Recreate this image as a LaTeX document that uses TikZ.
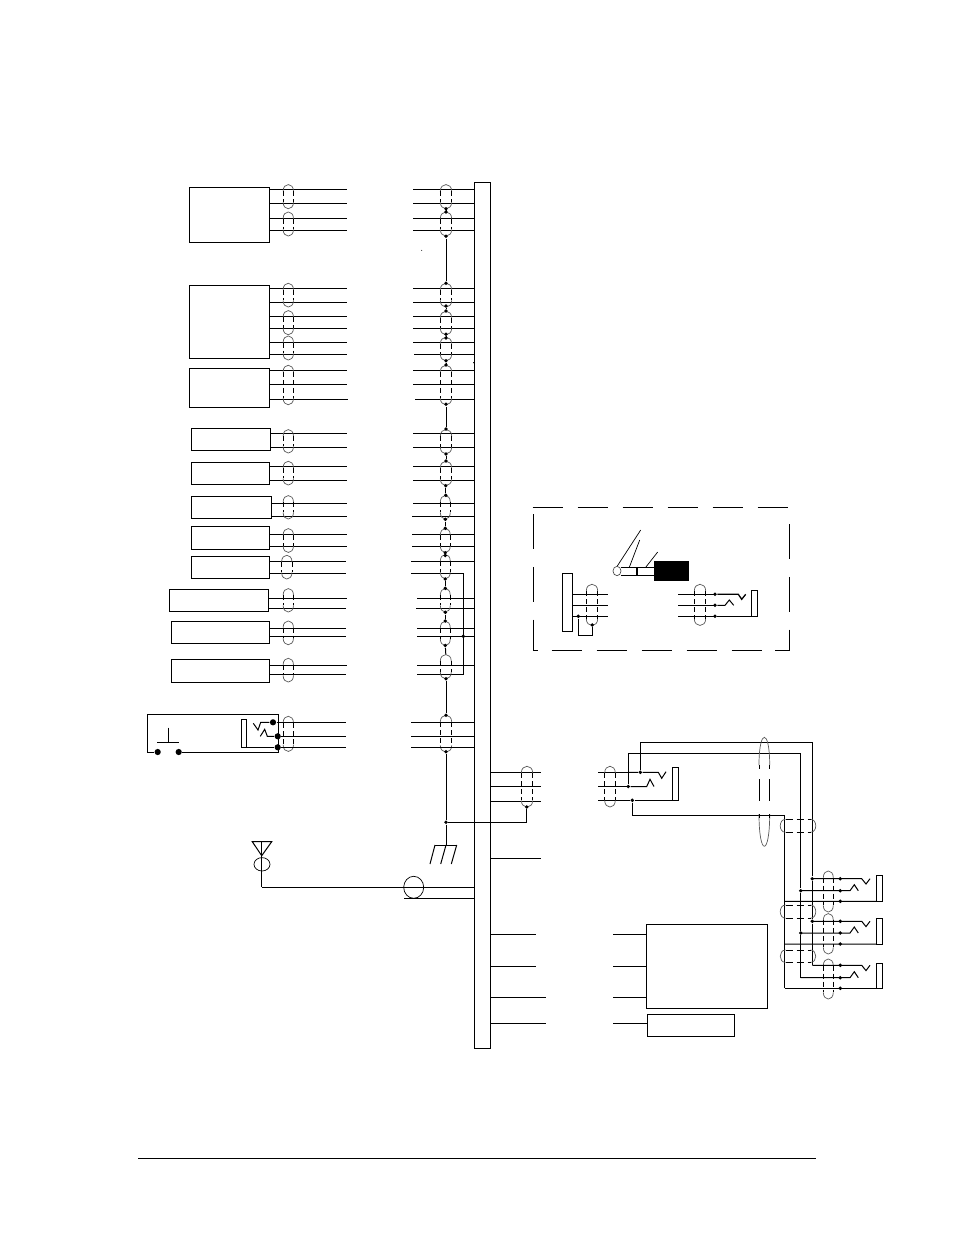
\documentclass[tikz,border=0pt]{standalone}
\usepackage{tikz}
\usetikzlibrary{positioning, calc}

\tikzset{
	unit/.style={draw, inner sep=0pt, outer sep=0pt},
	dot/.style={circle, fill, inner sep=0pt, minimum size=3.8pt},
	bigdot/.style={circle, fill, inner sep=0pt, minimum size=6.2pt},
	shieldside/.style={dash pattern=on 5pt off 3pt, line width=.75pt},
	shieldcap/.style={black!65, line width=.7pt},
	frameline/.style={dash pattern=on 30pt off 15pt},
	framerun/.style={dash pattern=on 35.3pt off 17.5pt}
}
\newcommand{\unitnode}[5]{\node[unit, minimum width={(#4-#2)*1pt}, minimum height={(#5-#3)*1pt}]
	(#1) at ({(#2+#4)/2},{(#3+#5)/2}) {};}
% x, half width, top, bottom
\newcommand{\shield}[4]{
	\draw[shieldcap] ({#1-#2},{#3+7}) .. controls ({#1-#2},{#3-2}) and ({#1+#2},{#3-2}) .. ({#1+#2},{#3+7});
	\draw[shieldcap] ({#1-#2},{#4-7}) .. controls ({#1-#2},{#4+2}) and ({#1+#2},{#4+2}) .. ({#1+#2},{#4-7});
	\draw[shieldside] ({#1-#2},{#3+7}) -- ({#1-#2},{#4-7});
	\draw[shieldside] ({#1+#2},{#3+7}) -- ({#1+#2},{#4-7});
}
% left, right, y, half height
\newcommand{\hshield}[4]{
	\draw[shieldcap] ({#1+5},{#3-#4}) .. controls ({#1-2},{#3-#4}) and ({#1-2},{#3+#4}) .. ({#1+5},{#3+#4});
	\draw[shieldcap] ({#2-5},{#3-#4}) .. controls ({#2+2},{#3-#4}) and ({#2+2},{#3+#4}) .. ({#2-5},{#3+#4});
	\draw[shieldside, dash pattern=on 7.5pt off 3.5pt] ({#1+5},{#3-#4}) -- ({#2-5},{#3-#4});
	\draw[shieldside, dash pattern=on 7.5pt off 3.5pt] ({#1+5},{#3+#4}) -- ({#2-5},{#3+#4});
}

\begin{document}
\begin{tikzpicture}[x=1pt, y=-1pt, line width=1pt]
	\useasboundingbox (0,0) rectangle (954,1235);

	% units
	\foreach \n/\xa/\ya/\xb/\yb in {
		bus/474.3/182.3/490.3/1048.3,
		boxa/189.3/187.3/269.3/242.3, boxb/189.3/285.3/269.3/358.3, boxc/189.3/368.3/269.3/407.3,
		boxd/191.3/428.3/270.3/450.3, boxe/191.3/462.3/269.3/484.3, boxf/191.3/496.3/271.3/518.3,
		boxg/191.3/526.3/269.3/549.3, boxh/191.3/556.3/269.3/578.3, boxi/169.3/589.3/268.3/611.3,
		boxj/171.3/621.3/269.3/643.3, boxk/171.3/659.3/269.3/682.3,
		boxl/646.3/924.3/767.3/1008.3, boxm/647.3/1014.3/734.3/1036.3,
		minibus/562.3/573.3/572.7/631.3}
		{\unitnode{\n}{\xa}{\ya}{\xb}{\yb}}

	% wires, left and right of the break
	\foreach \n/\y/\xa/\xb in {
		boxa/189.3/347/413, boxa/203.3/347/413, boxa/218.3/347/413, boxa/230.3/347/413,
		boxb/288.3/347/413, boxb/302.3/347/413, boxb/316.3/347/413, boxb/328.3/347/413,
		boxb/342.3/347/413, boxb/354.3/347/414,
		boxc/370.3/347/413, boxc/384.3/347/413, boxc/399.3/348/415,
		boxd/433.3/347/413, boxd/447.3/347/413, boxe/466.3/347/413, boxe/480.3/347/413,
		boxf/503.3/347/413, boxf/516.3/347/412, boxg/534.3/347/412, boxg/546.3/347/412,
		boxh/561.3/346/411, boxi/598.3/347/417, boxi/608.3/346/416,
		boxj/628.3/346/417, boxj/636.3/346/417, boxk/665.3/347/417}
		{\draw (\n.east |- 0,\y) -- (\xa,\y);
		 \draw (\xb,\y) -- (bus.west |- 0,\y);}
	\draw (boxh.east |- 0,573.3) -- (346,573.3);
	\draw (boxk.east |- 0,674.3) -- (346,674.3);
	\coordinate (loopa) at (463.3,573.3);
	\coordinate (loopb) at (463.3,674.3);
	\node[dot] (loopc) at (463.3,636.3) {};
	\draw (411,573.3) -- (loopa) -- (loopb) -- (417,674.3);

	% shields on the left wires
	\foreach \x/\a/\b in {
		288.3/184.3/209, 288.3/211.7/236.3, 288.3/283/307.3, 288.3/310.3/335, 288.3/335.7/360.3,
		288.3/365/405, 288.3/429.3/453.3, 288.3/461/485.3, 288.3/495.3/519.3, 288.3/528.3/552.7,
		286.8/555/579.3, 288.3/588.3/612.3, 288.3/620.7/645, 288.3/658/682.3, 288.3/716/751.7}
		{\shield{\x}{5.2}{\a}{\b}}
	% shields on the right wires
	\foreach \x/\w/\a/\b in {
		446/5.7/184.3/209, 446/5.7/211.7/236.3, 446/5.7/283/307.3, 446/5.7/311/335, 446/5.7/337/361,
		446/5.7/365/405, 446/5.7/429.3/454, 446/5.7/461/485.7, 445.3/5/495.3/519.3, 445.3/5/528.3/552.7,
		445.3/5/554.3/579, 445.3/5/588.3/612.3, 445.3/5/621/645.7, 445.8/5.5/654.3/679, 446/5.7/715/752.3}
		{\shield{\x}{\w}{\a}{\b}}

	% drains between the shields
	\foreach \x/\a/\b [count=\i] in {
		446/208.7/212, 446/236.3/283.3, 446/306/311, 446/334.3/338, 446/360.7/365, 446/404.3/429,
		446/454/461, 445.8/485.7/495.3, 445.3/519.3/528.3, 445.3/552.7/555.5, 445.3/579/588.3,
		445.3/612.3/621}
		{\node[dot] (drta\i) at (\x,\a) {};
		 \node[dot] (drtb\i) at (\x,\b) {};
		 \draw (drta\i) -- (drtb\i);}
	\node[dot] (drtc) at (445.3,645.5) {};
	\coordinate (drtd) at (445.8,654.3);
	\draw (drtc) -- (drtd);
	\node[dot] (drte) at (446,678.7) {};
	\node[dot] (drtf) at (446,715.3) {};
	\draw (drte) -- (drtf);
	\node[dot] (drtg) at (446,751.7) {};
	\node[dot] (drth) at (446,822.3) {};
	\coordinate (gnd) at (446,845);
	\draw (drtg) -- (drth) -- (gnd);

	% chassis
	\coordinate (gnda) at (435,845);
	\coordinate (gndb) at (456.7,845);
	\draw (gnda) -- (gndb);
	\draw (gnda) -- (430,864);
	\draw (gnd) -- (440.7,864);
	\draw (gndb) -- (451.3,864);

	% switch and jack unit
	\node[bigdot] (swa) at (157.7,752) {};
	\node[bigdot] (swb) at (178.7,752) {};
	\node[bigdot] (swc) at (273,722.3) {};
	\node[bigdot] (swd) at (277.7,736.3) {};
	\node[bigdot] (swe) at (277.7,747.3) {};
	\draw (swa) -- (147.3,752) -- (147.3,714.3) -- (278.3,714.3) -- (278.3,752) -- (swb);
	\draw (168.3,727.7) -- (168.3,742.3);
	\draw (157.3,742.3) -- (179,742.3);
	\unitnode{jacka}{241.3}{719.3}{246.7}{747.3}
	\draw (jacka.south east) -- (swe);
	\draw (253.3,723.3) -- (258,730) -- (260.7,722.3) -- (swc);
	\draw (260.3,736.3) -- (264.7,729.3) -- (267.3,736.3) -- (swd);
	\draw (swc) -- (346,722.3);
	\draw (swd) -- (346,736.3);
	\draw (swe) -- (346,747.3);
	\foreach \y in {722.3, 736.3, 747.3}
		{\draw (411.3,\y) -- (bus.west |- 0,\y);}

	% antenna
	\coordinate (anta) at (252.3,841.7);
	\coordinate (antb) at (271.7,841.7);
	\coordinate (antc) at (261.7,855.7);
	\coordinate (antd) at (261.7,887.3);
	\draw (anta) -- (antb) -- (antc) -- cycle;
	\draw (261.7,841.7) -- (antd);
	\draw[line width=.7pt] (262,864.3) ellipse [x radius=8, y radius=6.7];
	\draw (antd) -- (bus.west |- antd);
	\draw[line width=.7pt] (413.7,887.3) ellipse [x radius=10, y radius=11];
	\draw (404,898.3) -- (bus.west |- 0,898.3);

	% wires right of the bus
	\foreach \y/\x in {772.3/541, 786.3/541, 801.3/541, 858.3/541, 934.3/536, 966.3/536, 997/546, 1023.3/546}
		{\draw (bus.east |- 0,\y) -- (\x,\y);}
	\shield{527}{5.7}{766}{807.3}
	\node[dot] (drtj) at (526.7,807) {};
	\draw (drth) -- (526.7,822.3) -- (drtj);
	\foreach \y in {934.3, 966.3, 997}
		{\draw (613,\y) -- (boxl.west |- 0,\y);}
	\draw (613,1023.3) -- (boxm.west |- 0,1023.3);

	% dashed frame
	\draw[frameline] (532.7,507.3) -- (788.7,507.3);
	\draw[frameline] (551.7,650.3) -- (761.7,650.3);
	\draw[framerun] (533.3,514) -- (533.3,650.3) -- (540,650.3);
	\draw[framerun] (789.3,524) -- (789.3,650.3) -- (770,650.3);

	% plug
	\node[unit, fill=black, minimum width=34pt, minimum height=19pt] (plugbody) at (671,570.5) {};
	\draw (621,567.3) -- (plugbody.west |- 0,567.3);
	\draw (621,575.7) -- (plugbody.west |- 0,575.7);
	\draw[line width=1.3pt] (637,567.3) -- (637,575.7);
	\draw[line width=.7pt, black!70] (617,571) ellipse [x radius=4, y radius=4.7];
	\draw[line width=.7pt] (617.3,566) -- (640.7,530);
	\draw[line width=.7pt] (629.3,567.3) -- (639.7,540);
	\draw[line width=.7pt] (645.7,567.3) -- (657.7,552);

	% inset wiring
	\foreach \y in {594.3, 605.3, 616.3}
		{\draw (minibus.east |- 0,\y) -- (608.3,\y);
		 \draw (678,\y) -- (715,\y);}
	\begin{scope}[shieldside/.append style={line width=1.4pt}]
		\shield{592}{5.7}{584}{625.7}
		\shield{700}{5.7}{584}{625.7}
	\end{scope}
	\node[dot] (mda) at (578.3,616.3) {};
	\node[dot] (mdb) at (592.3,625) {};
	\draw (mda) -- (578.3,635.3) -- (592.3,635.3) -- (mdb);
	\node[dot] (mjc) at (715,594.3) {};
	\node[dot] (mjd) at (715,605.3) {};
	\node[dot] (mje) at (715,616.3) {};
	\unitnode{mjack}{751.7}{590.3}{757.3}{616.3}
	\draw[line width=1.3pt] (mjc) -- (738.3,594.3) -- (741.7,599.3) -- (745.7,594.3);
	\draw (mjd) -- (725,605.3) -- (729.3,600) -- (733.7,605.3);
	\draw (mje) -- (mjack.south west);

	% cable jack
	\foreach \y in {772.3, 786.5, 800.3}
		{\draw (598,\y) -- (628.3,\y);}
	\shield{610}{5.3}{766}{807.3}
	\node[dot] (cja) at (640.3,772.3) {};
	\node[dot] (cjb) at (628.3,786.5) {};
	\node[dot] (cjc) at (632.3,800.3) {};
	\unitnode{cjack}{672.3}{767.3}{678.3}{800.3}
	\draw (628.3,772.3) -- (cja) -- (658.3,772.3) -- (661.7,778.3) -- (666,771.7);
	\draw (cjb) -- (646.7,786.5) -- (650,779.3) -- (654,786.5);
	\draw (628.3,800.3) -- (cjc) -- (cjack.south west);

	% cable runs
	\node[dot] (jaa) at (812.3,878.7) {};
	\node[dot] (jab) at (800.7,890.7) {};
	\node[dot] (jba) at (812.3,921.3) {};
	\node[dot] (jbb) at (800.7,933) {};
	\coordinate (jca) at (812.3,965.3);
	\coordinate (jcb) at (800.7,977.7);
	\coordinate (jcc) at (784.7,988.3);
	\draw (cja) -- (640.3,742.3) -- (812.3,742.3) -- (jaa) -- (jba) -- (jca);
	\draw (cjb) -- (628.3,753) -- (800.7,753) -- (jab) -- (jbb) -- (jcb);
	\draw (cjc) -- (632.3,815.3) -- (784.7,815.3) -- (jcc);

	% the three jacks
	\foreach \n/\ya/\yb/\yc/\yt/\st/\sb/\s in {
		jacb/878.7/890.7/901.3/875/870.7/912.3/a,
		jacc/921.3/933/944/918.3/913.3/954.3/b,
		jacd/965.3/977.7/988.3/963.3/958.7/999.3/c}
		{\unitnode{\n}{876.7}{\yt}{882.7}{\yc}
		 \shield{828.3}{5}{\st}{\sb}
		 \node[dot] (\s pa) at (840.3,\ya) {};
		 \node[dot] (\s pb) at (840.3,\yb) {};
		 \node[dot] (\s pc) at (840.3,\yc) {};
		 \draw (812.3,\ya) -- (861.7,\ya) -- (866,{\ya+5.3}) -- (870,\ya);
		 \draw (800.7,\yb) -- (850,\yb) -- (854.3,{\yb-6}) -- (858.3,\yb);
		 \draw (784.7,\yc) -- (\n.south west);}

	% big cable shield
	\draw[shieldcap] (759,765) .. controls (759,728) and (769.7,728) .. (769.7,765);
	\draw[shieldcap] (759,814) .. controls (759,857) and (769.7,857) .. (769.7,814);
	\foreach \x in {759, 769.7}
		{\draw (\x,765) -- (\x,769);
		 \draw (\x,779.3) -- (\x,801);
		 \draw (\x,814) -- (\x,818);}

	% cross shields on the runs
	\hshield{780.5}{815.5}{825.8}{6.5}
	\hshield{780.5}{815.5}{911.6}{6.6}
	\hshield{780.5}{815.5}{956.2}{6.2}

	% stray specks
	\fill (421.7,250.3) circle [radius=.5];
	\fill (473.7,362.7) circle [radius=.7];

	% footer rule
	\draw[line width=.7pt] (138,1158.6) -- (816,1158.6);
\end{tikzpicture}
\end{document}
